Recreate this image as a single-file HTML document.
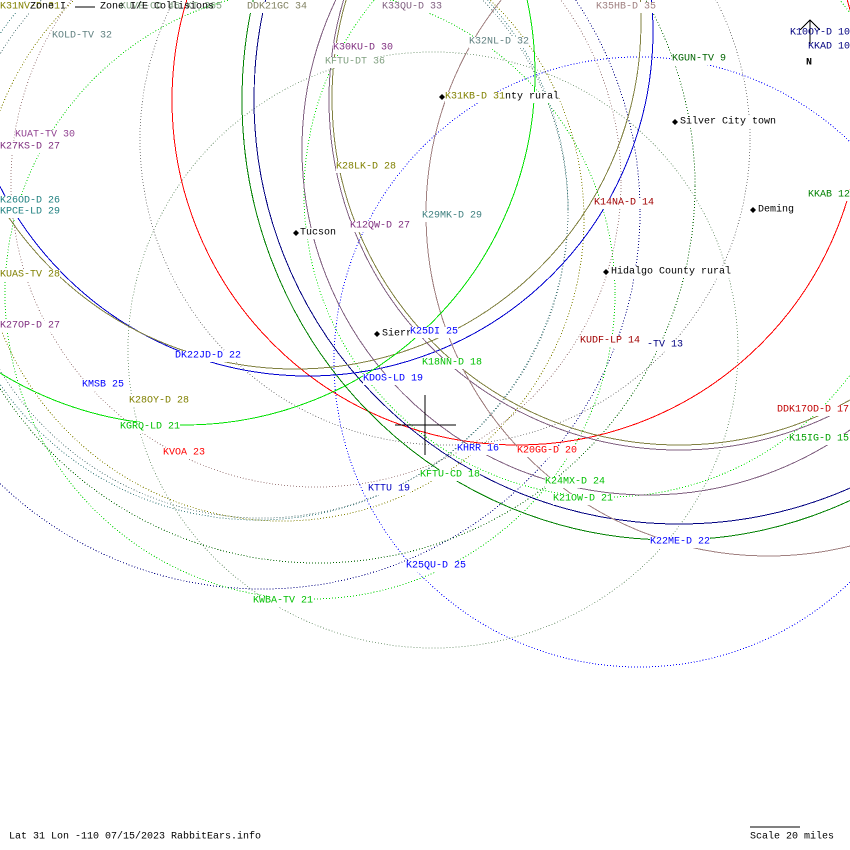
<!DOCTYPE html>
<html><head><meta charset="utf-8"><style>
html,body{margin:0;padding:0;background:#fff;}
svg{display:block;}
text{font-family:"Liberation Mono","DejaVu Sans Mono",monospace;font-size:10px;}
</style></head><body>
<svg width="850" height="850" viewBox="0 0 850 850" xmlns="http://www.w3.org/2000/svg">
<rect width="850" height="850" fill="#fff"/>
<g fill="none" stroke-width="1" shape-rendering="crispEdges">
<!-- dotted circles -->
<g stroke-dasharray="1,2">
<circle cx="639" cy="362" r="305" stroke="#0000ff"/>
<circle cx="262" cy="211" r="378" stroke="#000080"/>
<circle cx="318" cy="186" r="377" stroke="#006400"/>
<circle cx="310" cy="294" r="305" stroke="#00d000"/>
<circle cx="607" cy="194" r="303" stroke="#00e000"/>
<ellipse cx="433" cy="350" rx="305" ry="298" stroke="#80a080"/>
<circle cx="445" cy="140" r="305" stroke="#808080"/>
<circle cx="316" cy="182" r="305" stroke="#a08080"/>
<circle cx="282" cy="219" r="302" stroke="#808000"/>
<circle cx="257" cy="209" r="311" stroke="#408080"/>
<circle cx="262" cy="212" r="306" stroke="#608080"/>
</g>
<!-- solid circles -->
<circle cx="517" cy="100" r="345" stroke="#ff0000"/>
<circle cx="679" cy="99" r="425" stroke="#000080"/>
<ellipse cx="672" cy="100" rx="430" ry="440" stroke="#008000"/>
<circle cx="308" cy="31" r="345" stroke="#0000d0"/>
<circle cx="295" cy="23" r="346" stroke="#808040"/>
<circle cx="679" cy="98" r="347" stroke="#808040"/>
<circle cx="679" cy="100" r="350" stroke="#806080"/>
<circle cx="648" cy="149" r="346" stroke="#806080"/>
<circle cx="768" cy="214" r="342" stroke="#a08080"/>
<circle cx="184" cy="74" r="351" stroke="#00e000"/>
<!-- crosshair -->
<line x1="395" y1="425" x2="456" y2="425" stroke="#000"/>
<line x1="425" y1="395" x2="425" y2="455" stroke="#000"/>
<!-- north arrow -->
<line x1="810" y1="20" x2="810" y2="44" stroke="#000"/>
<polyline points="800,30 810,20 820,30" stroke="#000"/>
<!-- scale bar -->
<line x1="750" y1="827" x2="800" y2="827" stroke="#000"/>
</g>
<!-- place markers -->
<g fill="#000">
<polygon points="442,94 445,97 442,100 439,97"/>
<polygon points="675,119 678,122 675,125 672,122"/>
<polygon points="753,207 756,210 753,213 750,210"/>
<polygon points="296,230 299,233 296,236 293,233"/>
<polygon points="606,269 609,272 606,275 603,272"/>
<polygon points="377,331 380,334 377,337 374,334"/>
</g>
<g dominant-baseline="central">
<!-- place names -->
<rect x="445" y="92" width="114" height="11" fill="#fff"/>
<text x="505" y="97" fill="#000">nty rural</text>
<rect x="680" y="117" width="96" height="11" fill="#fff"/>
<text x="680" y="122" fill="#000">Silver City town</text>
<rect x="758" y="205" width="36" height="11" fill="#fff"/>
<text x="758" y="210" fill="#000">Deming</text>
<rect x="300" y="228" width="36" height="11" fill="#fff"/>
<text x="300" y="233" fill="#000">Tucson</text>
<rect x="611" y="267" width="120" height="11" fill="#fff"/>
<text x="611" y="272" fill="#000">Hidalgo County rural</text>
<rect x="382" y="329" width="30" height="11" fill="#fff"/>
<text x="382" y="334" fill="#000">Sierr</text>
</g>
<g dominant-baseline="central">
<!-- station labels with white backgrounds -->
<rect x="0" y="2" width="60" height="11" fill="#fff"/><text x="0" y="7" fill="#808000">K31NV-D 31</text>
<text x="120" y="7" fill="#80a080">KUVE-CD 46 KT 365</text>
<rect x="247" y="2" width="60" height="11" fill="#fff"/><text x="247" y="7" fill="#808060">DDK21GC 34</text>
<rect x="382" y="2" width="60" height="11" fill="#fff"/><text x="382" y="7" fill="#806080">K33QU-D 33</text>
<rect x="596" y="2" width="60" height="11" fill="#fff"/><text x="596" y="7" fill="#a08080">K35HB-D 35</text>
<rect x="52" y="31" width="60" height="11" fill="#fff"/><text x="52" y="36" fill="#608080">KOLD-TV 32</text>
<rect x="469" y="37" width="60" height="11" fill="#fff"/><text x="469" y="42" fill="#608080">K32NL-D 32</text>
<rect x="333" y="43" width="60" height="11" fill="#fff"/><text x="333" y="48" fill="#803080">K30KU-D 30</text>
<rect x="325" y="57" width="60" height="11" fill="#fff"/><text x="325" y="62" fill="#80a080">KFTU-DT 36</text>
<rect x="672" y="54" width="54" height="11" fill="#fff"/><text x="672" y="59" fill="#006400">KGUN-TV 9</text>
<text x="790" y="33" fill="#000080">K10OY-D 10</text>
<text x="808" y="47" fill="#000080">KKAD 10</text>
<text x="806" y="63" fill="#000" font-weight="bold" font-size="12">N</text>
<rect x="445" y="92" width="60" height="11" fill="#fff"/><text x="445" y="97" fill="#808000">K31KB-D 31</text>
<rect x="15" y="130" width="60" height="11" fill="#fff"/><text x="15" y="135" fill="#904090">KUAT-TV 30</text>
<rect x="0" y="142" width="60" height="11" fill="#fff"/><text x="0" y="147" fill="#803080">K27KS-D 27</text>
<rect x="336" y="162" width="60" height="11" fill="#fff"/><text x="336" y="167" fill="#808000">K28LK-D 28</text>
<rect x="808" y="190" width="42" height="11" fill="#fff"/><text x="808" y="195" fill="#008000">KKAB 12</text>
<rect x="0" y="196" width="60" height="11" fill="#fff"/><text x="0" y="201" fill="#208080">K26OD-D 26</text>
<rect x="594" y="198" width="60" height="11" fill="#fff"/><text x="594" y="203" fill="#a00000">K14NA-D 14</text>
<rect x="0" y="207" width="60" height="11" fill="#fff"/><text x="0" y="212" fill="#208080">KPCE-LD 29</text>
<rect x="422" y="211" width="60" height="11" fill="#fff"/><text x="422" y="216" fill="#408080">K29MK-D 29</text>
<rect x="350" y="221" width="60" height="11" fill="#fff"/><text x="350" y="226" fill="#803080">K12QW-D 27</text>
<rect x="0" y="270" width="60" height="11" fill="#fff"/><text x="0" y="275" fill="#808000">KUAS-TV 28</text>
<rect x="0" y="321" width="60" height="11" fill="#fff"/><text x="0" y="326" fill="#803080">K27OP-D 27</text>
<rect x="410" y="327" width="48" height="11" fill="#fff"/><text x="410" y="332" fill="#0000ff">K25DI 25</text>
<rect x="647" y="340" width="36" height="11" fill="#fff"/><text x="647" y="345" fill="#000080">-TV 13</text>
<rect x="580" y="336" width="60" height="11" fill="#fff"/><text x="580" y="341" fill="#a00000">KUDF-LP 14</text>
<rect x="175" y="351" width="66" height="11" fill="#fff"/><text x="175" y="356" fill="#0000ff">DK22JD-D 22</text>
<rect x="422" y="358" width="60" height="11" fill="#fff"/><text x="422" y="363" fill="#00c000">K18NN-D 18</text>
<rect x="363" y="374" width="60" height="11" fill="#fff"/><text x="363" y="379" fill="#0000ff">KDOS-LD 19</text>
<rect x="82" y="380" width="42" height="11" fill="#fff"/><text x="82" y="385" fill="#0000ff">KMSB 25</text>
<rect x="129" y="396" width="60" height="11" fill="#fff"/><text x="129" y="401" fill="#808000">K28OY-D 28</text>
<rect x="777" y="405" width="73" height="11" fill="#fff"/><text x="777" y="410" fill="#c00000">DDK17OD-D 17</text>
<rect x="120" y="422" width="60" height="11" fill="#fff"/><text x="120" y="427" fill="#00c000">KGRQ-LD 21</text>
<rect x="789" y="434" width="61" height="11" fill="#fff"/><text x="789" y="439" fill="#00a000">K15IG-D 15</text>
<rect x="457" y="444" width="42" height="11" fill="#fff"/><text x="457" y="449" fill="#0000ff">KHRR 16</text>
<rect x="517" y="446" width="60" height="11" fill="#fff"/><text x="517" y="451" fill="#ff0000">K20GG-D 20</text>
<rect x="163" y="448" width="42" height="11" fill="#fff"/><text x="163" y="453" fill="#ff0000">KVOA 23</text>
<rect x="420" y="470" width="60" height="11" fill="#fff"/><text x="420" y="475" fill="#00c000">KFTU-CD 18</text>
<rect x="545" y="477" width="60" height="11" fill="#fff"/><text x="545" y="482" fill="#00c000">K24MX-D 24</text>
<rect x="368" y="484" width="42" height="11" fill="#fff"/><text x="368" y="489" fill="#0000c0">KTTU 19</text>
<rect x="553" y="494" width="60" height="11" fill="#fff"/><text x="553" y="499" fill="#00c000">K21OW-D 21</text>
<rect x="650" y="537" width="60" height="11" fill="#fff"/><text x="650" y="542" fill="#0000ff">K22ME-D 22</text>
<rect x="406" y="561" width="60" height="11" fill="#fff"/><text x="406" y="566" fill="#0000ff">K25QU-D 25</text>
<rect x="253" y="596" width="60" height="11" fill="#fff"/><text x="253" y="601" fill="#00c000">KWBA-TV 21</text>
<!-- legend -->
<text x="30" y="7" fill="#000">Zone I</text>
<line x1="75" y1="7" x2="95" y2="7" stroke="#000" stroke-width="1" shape-rendering="crispEdges"/>
<text x="100" y="7" fill="#000">Zone I/E Collisions</text>
<text x="9" y="837" fill="#000">Lat 31 Lon -110 07/15/2023 RabbitEars.info</text>
<text x="750" y="837" fill="#000">Scale 20 miles</text>
</g>
</svg>
</body></html>
